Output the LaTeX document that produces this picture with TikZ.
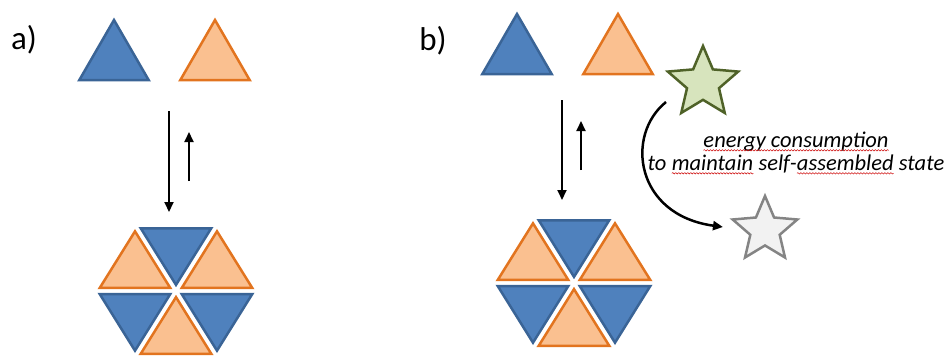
\documentclass[tikz,border=0pt]{standalone}
\usepackage{fontspec}
\setmainfont{Carlito}
\usetikzlibrary{positioning,arrows.meta,shapes.geometric,calc,decorations.pathmorphing}

\definecolor{triblue}{HTML}{4F81BD}
\definecolor{triblueline}{HTML}{3A6496}
\definecolor{triorange}{HTML}{FAC090}
\definecolor{triorangeline}{HTML}{E2741F}
\definecolor{stargreen}{HTML}{D7E4BD}
\definecolor{stargreenline}{HTML}{4F6228}
\definecolor{stargrey}{HTML}{F2F2F2}
\definecolor{stargreyline}{HTML}{848484}

% red wavy underline
\newcommand\redwave[1]{\tikz[baseline=(w.base)]{\node[inner sep=0pt,outer sep=0pt] (w) {#1};
  \draw[red!80!black,line width=0.5pt,decorate,decoration={snake,amplitude=0.7pt,segment length=3pt}]
    ([yshift=-3pt]w.base west) -- ([yshift=-3pt]w.base east);}}

\begin{document}
\begin{tikzpicture}[
    x=1pt, y=-1pt,
    >={Triangle[length=10pt,width=9pt]},
    bluetri/.style={fill=triblue,draw=triblueline,line width=2.5pt},
    orangetri/.style={fill=triorange,draw=triorangeline,line width=2.5pt},
    freetri/.style={regular polygon,regular polygon sides=3,minimum size=80pt,inner sep=0pt},
    fullstar/.style={star,star points=5,star point ratio=2.2,inner sep=0pt,line width=2.5pt,fill=stargreen,draw=stargreenline},
    emptystar/.style={star,star points=5,star point ratio=2.2,inner sep=0pt,line width=2.5pt,fill=stargrey,draw=stargreyline},
    arrow/.style={->,line width=2pt},
    panellabel/.style={font=\fontsize{33}{33}\selectfont},
    note/.style={align=center,font=\fontsize{22.5}{23}\selectfont\itshape}
]
\useasboundingbox (0,0) rectangle (945,356);

% panel a
\node[panellabel] (la) at (24,40) {a)};
\node[freetri,bluetri] (blueA) at (114,60) {};
\node[freetri,orangetri] (orangeA) at (215,60) {};
\coordinate (hexA) at (176,291);

% panel b
\node[panellabel] (lb) at (433,41) {b)};
\node[freetri,bluetri] (blueB) at (517,54) {};
\node[freetri,orangetri] (orangeB) at (618,54) {};
\coordinate (hexB) at (574,283);

% assembled hexagons
\foreach \c in {hexA,hexB}{
  \foreach \a/\b/\s in {0/60/bluetri,60/120/orangetri,120/180/bluetri,180/240/orangetri,240/300/bluetri,300/360/orangetri}{
    \path (\c) ++(\a:82 and 76) coordinate (v1);
    \path (\c) ++(\b:82 and 76) coordinate (v2);
    \coordinate (m) at ($(v1)!0.5!(v2)$);
    \coordinate (g) at ($(\c)!2/3!(m)$);
    \draw[\s] ($(g)!0.86!(\c)$) -- ($(g)!0.86!(v1)$) -- ($(g)!0.86!(v2)$) -- cycle;
  }
}

% equilibrium arrows
\coordinate (a1) at (169,111);
\coordinate (a2) at (169,212);
\coordinate (a3) at (189,181);
\coordinate (a4) at (189,132);
\draw[arrow] (a1) -- (a2);
\draw[arrow] (a3) -- (a4);

\coordinate (b1) at (562,100);
\coordinate (b2) at (562,200);
\coordinate (b3) at (581,170);
\coordinate (b4) at (581,121);
\draw[arrow] (b1) -- (b2);
\draw[arrow] (b3) -- (b4);

% stars
\node[fullstar,minimum size=74pt] (full) at (703,83) {};
\node[emptystar,minimum size=68pt] (empty) at (765,230) {};
\coordinate (c1) at (666,102);
\coordinate (c2) at (723,227);
\draw[arrow,line width=2.5pt] (c1) .. controls (625,135) and (635,215) .. (c2);

% label
\node[note] (energy) at (796,153) {\redwave{energy consumption}\\to \redwave{maintain} self-\redwave{assembled} state};

\end{tikzpicture}
\end{document}
